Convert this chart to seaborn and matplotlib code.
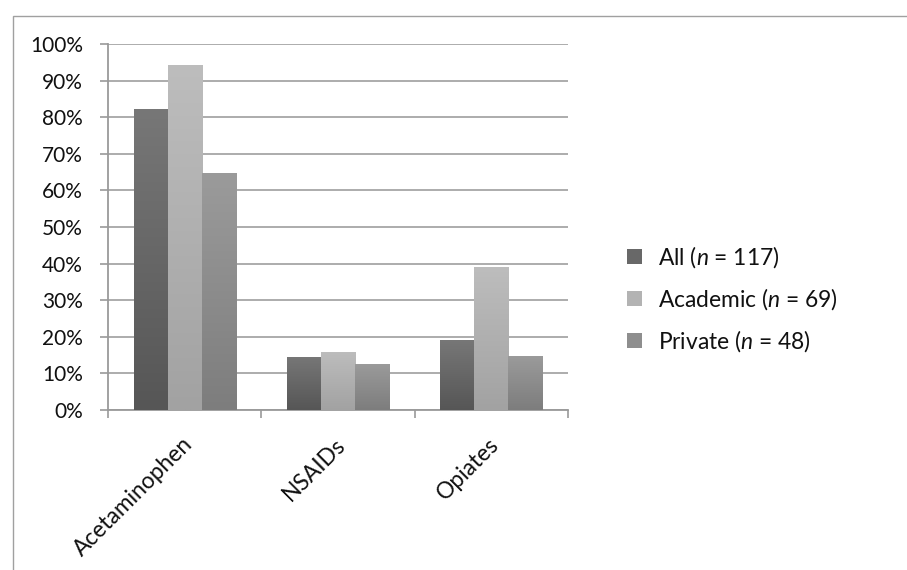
import numpy as np
import pandas as pd
import matplotlib
matplotlib.use("Agg")
import matplotlib.pyplot as plt
import matplotlib.colors as mcolors
from matplotlib.patches import Rectangle, Patch
import seaborn as sns

categories = ["Acetaminophen", "NSAIDs", "Opiates"]
groups = ["All ($n$ = 117)", "Academic ($n$ = 69)", "Private ($n$ = 48)"]
all_vals = [82.2, 14.5, 19.1]
academic_vals = [94.3, 15.9, 39.1]
private_vals = [64.8, 12.6, 14.8]
yticks = [0, 10, 20, 30, 40, 50, 60, 70, 80, 90, 100]
ytick_labels = [f"{v}%" for v in yticks]

top_colors = ["#777777", "#bdbdbd", "#9b9b9b"]
bot_colors = ["#565656", "#a2a2a2", "#7d7d7d"]
mid_colors = ["#686868", "#b3b3b3", "#8e8e8e"]

FS_Y = 15
FS_T = 16.4

sns.set_style("white")
plt.rcParams["font.family"] = ["Lato", "DejaVu Sans"]
plt.rcParams["mathtext.fontset"] = "custom"
plt.rcParams["mathtext.rm"] = "Lato"
plt.rcParams["mathtext.it"] = "Lato:italic"

rows = []
for g, vals in zip(groups, [all_vals, academic_vals, private_vals]):
    for c, v in zip(categories, vals):
        rows.append({"drug": c, "pct": v, "group": g})
df = pd.DataFrame(rows)

fig = plt.figure(figsize=(9.07, 5.70), dpi=100)
ax = fig.add_axes([108/907, 1-410/570, 460/907, 366/570])

# chart-area border
fig.patches.append(Rectangle((12.5/907, -0.1), 1.2, 1 - 16/570 + 0.1, transform=fig.transFigure,
                             fill=False, edgecolor="#a0a0a0", linewidth=1.0, zorder=0))

sns.barplot(data=df, x="drug", y="pct", hue="group", palette=mid_colors,
            saturation=1, width=0.667, gap=0, ax=ax, legend=False, zorder=3)

ax.set_ylim(0, 100)
ax.set_xlim(-0.5, 2.5)
ax.set_yticks(yticks)
ax.set_yticklabels(ytick_labels)
ax.yaxis.grid(True, color="#a6a6a6", linewidth=1.3, zorder=0)
ax.set_axisbelow(True)
ax.set_xlabel("")
ax.set_ylabel("")

# gradients
bars = [p for p in ax.patches if isinstance(p, Rectangle)]
nb = len(categories)
for i, p in enumerate(bars):
    gi = i // nb
    x0, y0 = p.get_x(), p.get_y()
    w, h = p.get_width(), p.get_height()
    cmap = mcolors.LinearSegmentedColormap.from_list("g", [bot_colors[gi], top_colors[gi]])
    grad = np.linspace(0, 1, 256).reshape(-1, 1)
    im = ax.imshow(grad, extent=[x0, x0 + w, y0, y0 + h], origin="lower",
                   aspect="auto", cmap=cmap, zorder=3)
    im.set_clip_path(p)
    p.set_facecolor("none")
    p.set_edgecolor("none")
ax.set_xlim(-0.5, 2.5)
ax.set_ylim(0, 100)

for s in ["top", "right"]:
    ax.spines[s].set_visible(False)
for s in ["left", "bottom"]:
    ax.spines[s].set_color("#9a9a9a")
    ax.spines[s].set_linewidth(1.3)

ax.tick_params(axis="y", left=True, length=6, width=1.2, color="#9a9a9a", pad=12,
               labelsize=FS_Y, labelcolor="#111111")
ax.set_xticks([-0.5, 0.5, 1.5, 2.5])
ax.set_xticklabels([])
ax.tick_params(axis="x", bottom=True, length=5.5, width=1.2, color="#9a9a9a")
for i, c in enumerate(categories):
    ax.text(i - 0.02, -6.5, c, rotation=45, ha="right", va="top", rotation_mode="anchor",
            fontsize=FS_T, color="#111111")

handles = [Patch(facecolor=mid_colors[i], edgecolor="none") for i in range(3)]
leg = fig.legend(handles, groups, loc="center left", bbox_to_anchor=(627/907, 1-299/570),
                 frameon=False, fontsize=FS_T, handlelength=0.66, handleheight=0.66,
                 labelspacing=0.72, handletextpad=0.7, borderpad=0, borderaxespad=0)
for t in leg.get_texts():
    t.set_color("#111111")

fig.savefig("out.png", dpi=100)
